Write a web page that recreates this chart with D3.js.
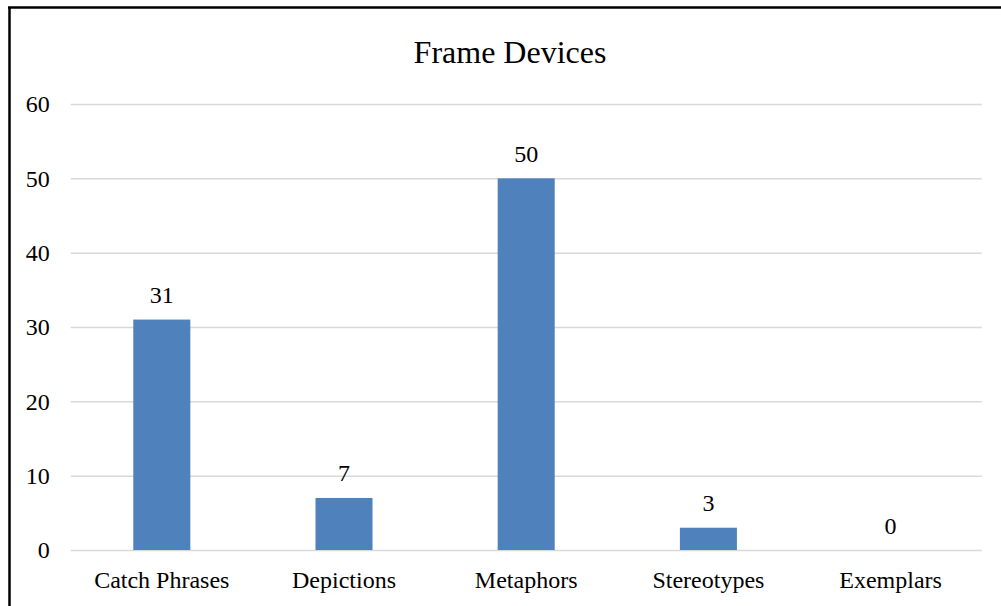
<!DOCTYPE html>
<html>
<head>
<meta charset="utf-8">
<script src="https://cdn.jsdelivr.net/npm/d3@7"></script>
<style>
  html, body { margin: 0; padding: 0; background: #fff; }
  svg { display: block; }
  text { font-family: "Liberation Serif", "Times New Roman", serif; fill: #000; }
</style>
</head>
<body>
<svg id="chart" width="1001" height="606"></svg>
<script>
const categories = ["Catch Phrases", "Depictions", "Metaphors", "Stereotypes", "Exemplars"];
const values = [31, 7, 50, 3, 0];
const yTicks = [0, 10, 20, 30, 40, 50, 60];
const title = "Frame Devices";

const svg = d3.select("#chart");
const W = 1001, H = 606;
const plot = { left: 70.7, right: 981.7, top: 104, bottom: 550 };

// frame border (left and top visible)
svg.append("line").attr("x1", 9.5).attr("x2", 9.5).attr("y1", 7).attr("y2", H)
  .attr("stroke", "#000").attr("stroke-width", 2.5);
svg.append("line").attr("x1", 8).attr("x2", W).attr("y1", 7.5).attr("y2", 7.5)
  .attr("stroke", "#000").attr("stroke-width", 2.5);

const x = d3.scaleBand().domain(categories).range([plot.left, plot.right]).padding(0);
const y = d3.scaleLinear().domain([0, 60]).range([plot.bottom, plot.top]);

// gridlines
const yAxis = d3.axisLeft(y).tickValues(yTicks).tickSize(-(plot.right - plot.left)).tickPadding(21);
const gy = svg.append("g").attr("transform", `translate(${plot.left},0)`).call(yAxis);
gy.select(".domain").remove();
gy.selectAll(".tick line").attr("stroke", "#d9d9d9").attr("stroke-width", 1.5);
gy.selectAll(".tick text").attr("font-size", 24).attr("font-family", "Liberation Serif, serif").attr("fill", "#000");

// bars
const barW = x.bandwidth() * 0.313;
svg.append("g").selectAll("rect").data(categories).join("rect")
  .attr("x", (d) => x(d) + x.bandwidth() / 2 - barW / 2)
  .attr("width", barW)
  .attr("y", (d, i) => y(values[i]))
  .attr("height", (d, i) => y(0) - y(values[i]))
  .attr("fill", "#4f81bd");

// data labels
svg.append("g").selectAll("text").data(categories).join("text")
  .attr("x", (d) => x(d) + x.bandwidth() / 2)
  .attr("y", (d, i) => y(values[i]) - 16.5)
  .attr("text-anchor", "middle")
  .attr("font-size", 24)
  .text((d, i) => values[i]);

// x axis labels
const xAxis = d3.axisBottom(x).tickSize(0).tickPadding(21);
const gx = svg.append("g").attr("transform", `translate(0,${plot.bottom})`).call(xAxis);
gx.select(".domain").remove();
gx.selectAll(".tick text").attr("font-size", 24).attr("font-family", "Liberation Serif, serif").attr("fill", "#000");

// title
svg.append("text").attr("x", 510).attr("y", 62.5).attr("text-anchor", "middle")
  .attr("font-size", 32).text(title);
</script>
</body>
</html>
